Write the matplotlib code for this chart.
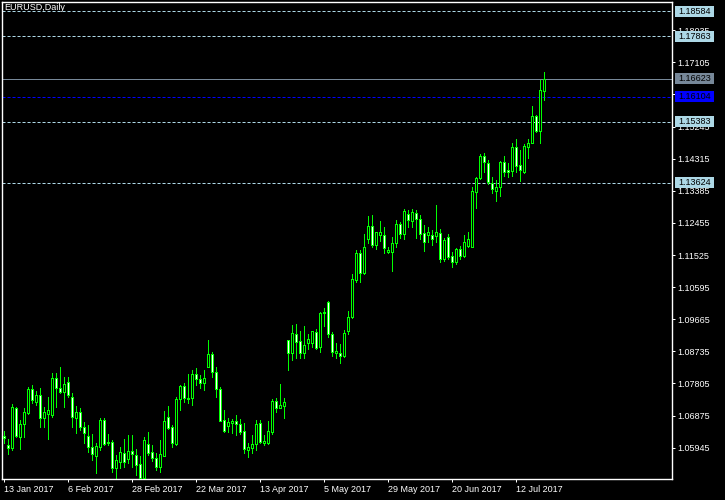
import numpy as np
import pandas as pd
import matplotlib
matplotlib.use('Agg')
import matplotlib.pyplot as plt
import matplotlib.transforms as mtransforms
from matplotlib.patches import Rectangle

plt.rcParams['font.family'] = ['Liberation Sans', 'DejaVu Sans']
plt.rcParams['lines.scale_dashes'] = False

# EURUSD daily candles, 13 Jan 2017 .. 21 Jul 2017
opens = [1.0628, 1.0602, 1.0593, 1.0710, 1.0626, 1.0662, 1.0696, 1.0764, 1.0728, 1.0747,
         1.0680, 1.0692, 1.0689, 1.0795, 1.0766, 1.0755, 1.0786, 1.0740, 1.0680, 1.0697,
         1.0655, 1.0628, 1.0596, 1.0571, 1.0597, 1.0675, 1.0607, 1.0612, 1.0535, 1.0554,
         1.0578, 1.0561, 1.0585, 1.0573, 1.0546, 1.0506, 1.0604, 1.0581, 1.0566, 1.0539,
         1.0571, 1.0682, 1.0654, 1.0605, 1.0735, 1.0773, 1.0735, 1.0738, 1.0807, 1.0793,
         1.0781, 1.0829, 1.0865, 1.0813, 1.0764, 1.0675, 1.0658, 1.0667, 1.0672, 1.0662,
         1.0643, 1.0588, 1.0593, 1.0604, 1.0665, 1.0609, 1.0609, 1.0641, 1.0730, 1.0709,
         1.0716, 1.0906, 1.0868, 1.0924, 1.0903, 1.0870, 1.0898, 1.0897, 1.0929, 1.0885,
         1.0984, 1.1016, 1.0924, 1.0868, 1.0870, 1.0861, 1.0933, 1.0972, 1.1080, 1.1157,
         1.1101, 1.1198, 1.1237, 1.1181, 1.1210, 1.1210, 1.1162, 1.1162, 1.1186, 1.1242,
         1.1212, 1.1271, 1.1252, 1.1273, 1.1257, 1.1215, 1.1210, 1.1210, 1.1208, 1.1215,
         1.1142, 1.1204, 1.1150, 1.1131, 1.1169, 1.1151, 1.1179, 1.1177, 1.1336, 1.1375,
         1.1440, 1.1418, 1.1362, 1.1338, 1.1350, 1.1421, 1.1399, 1.1396, 1.1466, 1.1413,
         1.1392, 1.1466, 1.1478, 1.1555, 1.1512, 1.1628]
highs = [1.0643, 1.0619, 1.0720, 1.0713, 1.0675, 1.0709, 1.0771, 1.0776, 1.0760, 1.0767,
         1.0713, 1.0742, 1.0812, 1.0810, 1.0829, 1.0800, 1.0800, 1.0752, 1.0715, 1.0709,
         1.0668, 1.0660, 1.0634, 1.0609, 1.0680, 1.0680, 1.0634, 1.0617, 1.0573, 1.0596,
         1.0620, 1.0631, 1.0631, 1.0590, 1.0570, 1.0625, 1.0639, 1.0602, 1.0578, 1.0617,
         1.0701, 1.0715, 1.0660, 1.0740, 1.0776, 1.0783, 1.0808, 1.0820, 1.0824, 1.0805,
         1.0820, 1.0906, 1.0873, 1.0827, 1.0771, 1.0704, 1.0681, 1.0678, 1.0689, 1.0677,
         1.0665, 1.0607, 1.0631, 1.0675, 1.0675, 1.0631, 1.0672, 1.0736, 1.0738, 1.0779,
         1.0738, 1.0906, 1.0950, 1.0953, 1.0932, 1.0947, 1.0924, 1.0932, 1.0938, 1.0988,
         1.1000, 1.1020, 1.0930, 1.0897, 1.0895, 1.0935, 1.0991, 1.1097, 1.1167, 1.1167,
         1.1212, 1.1265, 1.1268, 1.1220, 1.1251, 1.1234, 1.1177, 1.1204, 1.1254, 1.1249,
         1.1285, 1.1283, 1.1285, 1.1283, 1.1268, 1.1239, 1.1234, 1.1225, 1.1297, 1.1228,
         1.1201, 1.1213, 1.1162, 1.1172, 1.1179, 1.1210, 1.1218, 1.1349, 1.1379, 1.1444,
         1.1447, 1.1428, 1.1378, 1.1370, 1.1425, 1.1439, 1.1420, 1.1478, 1.1488, 1.1457,
         1.1473, 1.1488, 1.1584, 1.1558, 1.1659, 1.1682]
lows = [1.0609, 1.0576, 1.0588, 1.0626, 1.0590, 1.0625, 1.0692, 1.0723, 1.0718, 1.0655,
        1.0655, 1.0619, 1.0684, 1.0713, 1.0752, 1.0713, 1.0742, 1.0655, 1.0638, 1.0646,
        1.0607, 1.0583, 1.0559, 1.0520, 1.0588, 1.0602, 1.0602, 1.0525, 1.0502, 1.0535,
        1.0539, 1.0549, 1.0539, 1.0515, 1.0503, 1.0503, 1.0573, 1.0557, 1.0530, 1.0525,
        1.0571, 1.0649, 1.0597, 1.0602, 1.0704, 1.0728, 1.0725, 1.0718, 1.0776, 1.0767,
        1.0762, 1.0827, 1.0798, 1.0740, 1.0672, 1.0641, 1.0641, 1.0636, 1.0631, 1.0634,
        1.0578, 1.0568, 1.0578, 1.0588, 1.0607, 1.0602, 1.0605, 1.0634, 1.0699, 1.0709,
        1.0681, 1.0820, 1.0848, 1.0853, 1.0853, 1.0855, 1.0879, 1.0887, 1.0880, 1.0873,
        1.0947, 1.0916, 1.0861, 1.0853, 1.0839, 1.0856, 1.0923, 1.0969, 1.1075, 1.1075,
        1.1098, 1.1186, 1.1175, 1.1169, 1.1193, 1.1159, 1.1157, 1.1107, 1.1177, 1.1203,
        1.1200, 1.1234, 1.1234, 1.1203, 1.1200, 1.1164, 1.1191, 1.1181, 1.1191, 1.1131,
        1.1136, 1.1142, 1.1119, 1.1126, 1.1142, 1.1148, 1.1177, 1.1177, 1.1290, 1.1373,
        1.1392, 1.1357, 1.1331, 1.1309, 1.1324, 1.1381, 1.1379, 1.1381, 1.1392, 1.1367,
        1.1389, 1.1434, 1.1476, 1.1508, 1.1476, 1.1601]
closes = [1.0623, 1.0594, 1.0712, 1.0628, 1.0662, 1.0697, 1.0764, 1.0733, 1.0747, 1.0680,
          1.0697, 1.0704, 1.0795, 1.0766, 1.0755, 1.0779, 1.0747, 1.0683, 1.0697, 1.0654,
          1.0638, 1.0597, 1.0575, 1.0599, 1.0675, 1.0604, 1.0612, 1.0535, 1.0559, 1.0581,
          1.0554, 1.0585, 1.0575, 1.0544, 1.0506, 1.0617, 1.0580, 1.0566, 1.0539, 1.0575,
          1.0672, 1.0651, 1.0607, 1.0735, 1.0773, 1.0738, 1.0739, 1.0807, 1.0793, 1.0781,
          1.0795, 1.0865, 1.0813, 1.0764, 1.0673, 1.0644, 1.0668, 1.0672, 1.0662, 1.0641,
          1.0590, 1.0597, 1.0605, 1.0662, 1.0612, 1.0615, 1.0643, 1.0730, 1.0709, 1.0717,
          1.0726, 1.0868, 1.0926, 1.0901, 1.0870, 1.0892, 1.0908, 1.0932, 1.0884, 1.0985,
          1.0988, 1.0923, 1.0873, 1.0875, 1.0861, 1.0926, 1.0974, 1.1083, 1.1159, 1.1101,
          1.1175, 1.1237, 1.1181, 1.1218, 1.1218, 1.1172, 1.1167, 1.1188, 1.1242, 1.1212,
          1.1281, 1.1254, 1.1276, 1.1256, 1.1212, 1.1191, 1.1218, 1.1199, 1.1218, 1.1142,
          1.1196, 1.1146, 1.1133, 1.1169, 1.1151, 1.1191, 1.1198, 1.1338, 1.1375, 1.1440,
          1.1423, 1.1363, 1.1343, 1.1349, 1.1423, 1.1394, 1.1394, 1.1464, 1.1411, 1.1399,
          1.1469, 1.1478, 1.1555, 1.1512, 1.1630, 1.1662]

first_day = '2017-01-13'
label_every = 16
price_ticks = [1.05945, 1.06875, 1.07805, 1.08735, 1.09665, 1.10595, 1.11525,
               1.12455, 1.13385, 1.14315, 1.15245, 1.16175, 1.17105, 1.18035]
dashed_levels = [1.18584, 1.17863, 1.15383, 1.13624]
blue_level = 1.16104
bid_level = 1.16623

lime = '#00ff00'
px = 0.72  # one pixel at 100 dpi, in points
ymin, ymax = 1.05039, 1.18851

fig = plt.figure(figsize=(7.25, 5.0), dpi=100, facecolor='black')
ax = fig.add_axes([2 / 725, 21 / 500, 670 / 725, 477 / 500], facecolor='black')

idx = np.arange(len(closes))
dates = pd.bdate_range(first_day, periods=len(closes))

# wicks, then bodies on top (black = up day, white = down day)
ax.vlines(idx, lows, highs, color=lime, lw=px, zorder=2, antialiased=False)
for i in idx:
    o, c = opens[i], closes[i]
    face = 'black' if c >= o else 'white'
    ax.add_patch(Rectangle((i - 0.25, min(o, c)), 0.5, abs(c - o),
                           facecolor=face, edgecolor=lime, lw=px, zorder=3,
                           antialiased=False))

for lv in dashed_levels:
    ax.axhline(lv, color='#add8e6', lw=px, dashes=(2.2, 1.4), zorder=1)
ax.axhline(blue_level, color='#0000ff', lw=px, dashes=(2.2, 1.4), zorder=1)
ax.axhline(bid_level, color='#778899', lw=px, zorder=1)

# offset by half a pixel so the 1 px strokes land on pixel centres
ax.set_xlim(-0.375, 167.125)
ax.set_ylim(ymin, ymax)

ax.yaxis.tick_right()
ax.set_yticks(price_ticks)
ax.set_yticklabels([f'{v:.5f}' for v in price_ticks])
ax.set_xticks(idx[::label_every])
ax.set_xticklabels([f'{d.day} {d:%b %Y}' for d in dates[::label_every]])
for lbl in ax.get_xticklabels():
    lbl.set_horizontalalignment('left')
ax.tick_params(axis='both', colors='white', length=2.5, width=px,
               labelsize=6.5, pad=1.5, direction='out')
for sp in ax.spines.values():
    sp.set_color('white')
    sp.set_linewidth(1.0)

# price labels on the right axis
trans = mtransforms.blended_transform_factory(ax.transAxes, ax.transData)
box_h = 11 * (ymax - ymin) / 477


def price_box(v, bg, fg):
    ax.add_patch(Rectangle((1.0045, v - box_h / 2), 0.0582, box_h, transform=trans,
                           facecolor=bg, edgecolor='none', clip_on=False, zorder=5))
    ax.text(1.009, v, f'{v:.5f}', transform=trans, color=fg, fontsize=6.5,
            va='center', ha='left', clip_on=False, zorder=6)


for lv in dashed_levels:
    price_box(lv, '#add8e6', 'black')
price_box(bid_level, '#778899', 'black')
price_box(blue_level, '#0000ff', 'black')

fig.text(4 / 725, 1 - 8 / 500, 'EURUSD,Daily', color='white', fontsize=6.5,
         va='center', ha='left')

fig.savefig('out.png', dpi=100, facecolor='black')
